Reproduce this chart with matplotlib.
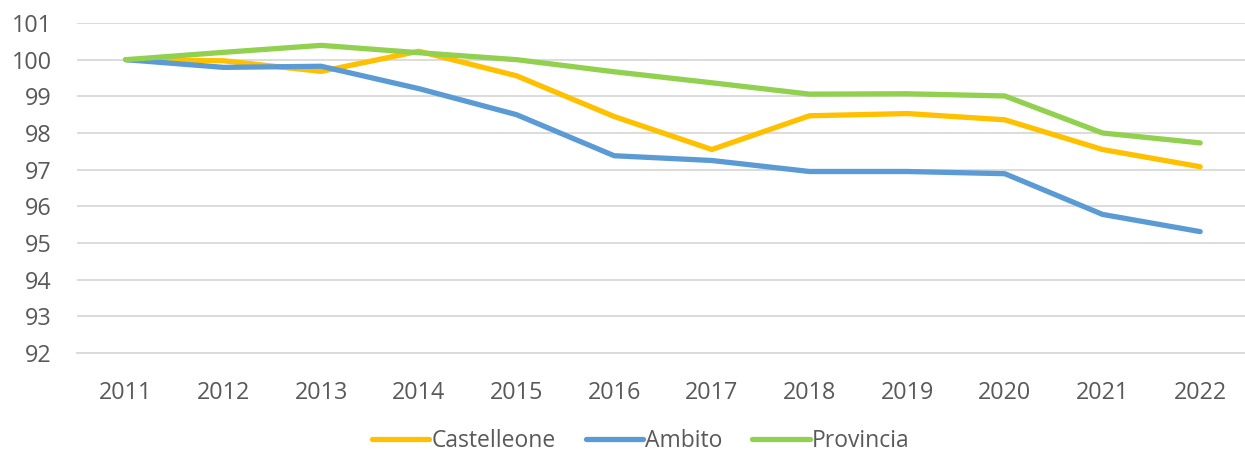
import matplotlib
matplotlib.use("Agg")
import matplotlib.pyplot as plt

plt.rcParams['font.family'] = ['Open Sans', 'DejaVu Sans']

years = [2011, 2012, 2013, 2014, 2015, 2016, 2017, 2018, 2019, 2020, 2021, 2022]
castelleone = [100.0, 99.97, 99.68, 100.23, 99.56, 98.45, 97.55, 98.47, 98.53, 98.36, 97.55, 97.08]
ambito = [100.0, 99.79, 99.82, 99.21, 98.50, 97.38, 97.25, 96.95, 96.95, 96.89, 95.78, 95.31]
provincia = [100.0, 100.20, 100.39, 100.19, 100.0, 99.67, 99.37, 99.06, 99.07, 99.01, 98.0, 97.73]

fig = plt.figure(figsize=(12.45, 4.54), dpi=100)
ax = fig.add_axes([77 / 1245, 1 - 353 / 454, (1249 - 77) / 1245, (353 - 23) / 454])

x = list(range(len(years)))
lw = 3.8
ax.plot(x, castelleone, color='#FFC000', lw=lw, label='Castelleone', solid_capstyle='round')
ax.plot(x, ambito, color='#5B9BD5', lw=lw, label='Ambito', solid_capstyle='round')
ax.plot(x, provincia, color='#92D050', lw=lw, label='Provincia', solid_capstyle='round')

ax.set_ylim(92, 101)
ax.set_yticks(range(92, 102))
ax.set_xlim(-0.5, len(years) - 0.5)
ax.set_xticks(x)
ax.set_xticklabels([str(y) for y in years])
ax.grid(axis='y', color='#D9D9D9', lw=1.3)
ax.set_axisbelow(True)
for s in ['top', 'right', 'left']:
    ax.spines[s].set_visible(False)
ax.spines['bottom'].set_color('#D9D9D9')
ax.spines['bottom'].set_linewidth(1.3)
ax.tick_params(length=0, labelsize=16.8, colors='#595959')
ax.tick_params(axis='x', pad=20)
ax.tick_params(axis='y', pad=18)

leg = ax.legend(loc='center', bbox_to_anchor=(0.481, -0.268), ncol=3, frameon=False,
                fontsize=16.5, handlelength=2.5, handletextpad=0.1, columnspacing=1.3,
                borderpad=0.1)
for t in leg.get_texts():
    t.set_color('#595959')

fig.savefig('out.png', dpi=100)
